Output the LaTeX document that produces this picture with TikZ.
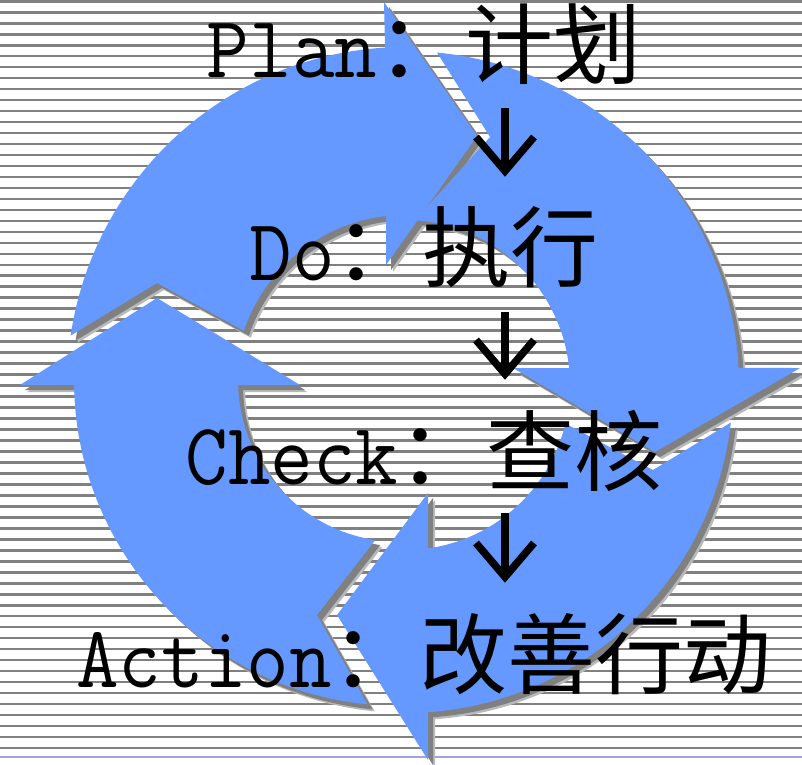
\documentclass[tikz,border=0pt]{standalone}
\usepackage{fontspec}
\newfontfamily\cjk{Noto Sans CJK SC}
\newfontfamily\lat[FakeStretch=0.94]{Latin Modern Mono}
\definecolor{arrowblue}{RGB}{102,153,255}
\definecolor{stripegray}{RGB}{128,128,128}
\definecolor{stripelav}{RGB}{160,160,230}
\begin{document}
\begin{tikzpicture}[x=1pt,y=1pt,
  cyclearrow/.style={fill=arrowblue},
  shadowsoft/.style={fill=stripegray!55!white},
  shadowcore/.style={fill=stripegray},
  cyclelabel/.style={inner sep=0pt, anchor=base, text=black, font=\fontsize{88}{100}\selectfont},
  downstroke/.style={draw=black, line width=7.5, line join=miter, line cap=butt},
  planshape/.style={insert path={(171.6:338) arc[start angle=171.6, end angle=93.39, radius=338] -- (-21,383) -- (72,249) -- (-19,120) -- (96.42:170) arc[start angle=96.42, end angle=161.4, radius=170] -- (-248,102) -- cycle}},
  doshape/.style={insert path={(84.5:334) arc[start angle=84.5, end angle=2.92, radius=334] -- (395,17) -- (250,-67) -- (108,17) -- (5.91:165) arc[start angle=5.91, end angle=86.5, radius=165] -- (85,248) -- cycle}},
  checkshape/.style={insert path={(-6.57:328) arc[start angle=-6.57, end angle=-85.98, radius=328] -- (23,-375) -- (-68,-230) -- (23,-108) -- (-81.99:165) arc[start angle=-81.99, end angle=-13.52, radius=165] -- (248,-85) -- cycle}},
  actshape/.style={insert path={(264.3:326) arc[start angle=264.3, end angle=180.88, radius=326] -- (-380,-5) -- (-243,82) -- (-100,-5) -- (181.77:162) arc[start angle=181.77, end angle=261.2, radius=162] -- (-83,-235) -- cycle}},
]
\useasboundingbox (0,0) rectangle (802,764);
\fill[white] (0,0) rectangle (802,764);
% striped background
\foreach \k in {0,...,68} {
  \draw[stripegray, line width=2.6] (0,{762.7-10.98*\k}) -- (802,{762.7-10.98*\k});
}
\draw[stripelav, line width=1.8] (0,7) -- (802,7);
% shadows
\begin{scope}[shift={(405,379)}]
  \fill[shadowsoft, shift={(7,-7)}, planshape];
  \fill[shadowsoft, shift={(7,-7)}, doshape];
  \fill[shadowsoft, shift={(7,-7)}, checkshape];
  \fill[shadowcore, shift={(5,-5)}, planshape];
  \fill[shadowcore, shift={(5,-5)}, doshape];
  \fill[shadowcore, shift={(5,-5)}, checkshape];
\end{scope}
\begin{scope}[shift={(400,384)}]
  \fill[shadowsoft, shift={(7,-7)}, actshape];
  \fill[shadowcore, shift={(5,-5)}, actshape];
\end{scope}
% arrows of the cycle
\begin{scope}[shift={(405,379)}]
  \fill[cyclearrow, planshape];
  \fill[cyclearrow, doshape];
  \fill[cyclearrow, checkshape];
\end{scope}
\begin{scope}[shift={(400,384)}]
  \fill[cyclearrow, actshape];
\end{scope}
% texts
\node[cyclelabel] (plan)  at (424,686) {{\lat Plan}{\cjk ：计划}};
\node[cyclelabel] (do)    at (424,483) {{\lat Do}{\cjk ：执行}};
\node[cyclelabel] (check) at (424,280) {{\lat Check}{\cjk ：查核}};
\node[cyclelabel] (act)   at (424,77)  {{\lat Action}{\cjk ：改善行动}};
% down arrows between the steps
\coordinate (d1top) at (505,656); \coordinate (d1tip) at (505,593);
\coordinate (d2top) at (505,452); \coordinate (d2tip) at (505,390);
\coordinate (d3top) at (505,251); \coordinate (d3tip) at (505,187);
\foreach \n in {1,2,3} {
  \draw[downstroke] (d\n top) -- (d\n tip);
  \draw[downstroke] (d\n tip) ++(-29,34) -- (d\n tip) -- ++(29,34);
}
\end{tikzpicture}
\end{document}
